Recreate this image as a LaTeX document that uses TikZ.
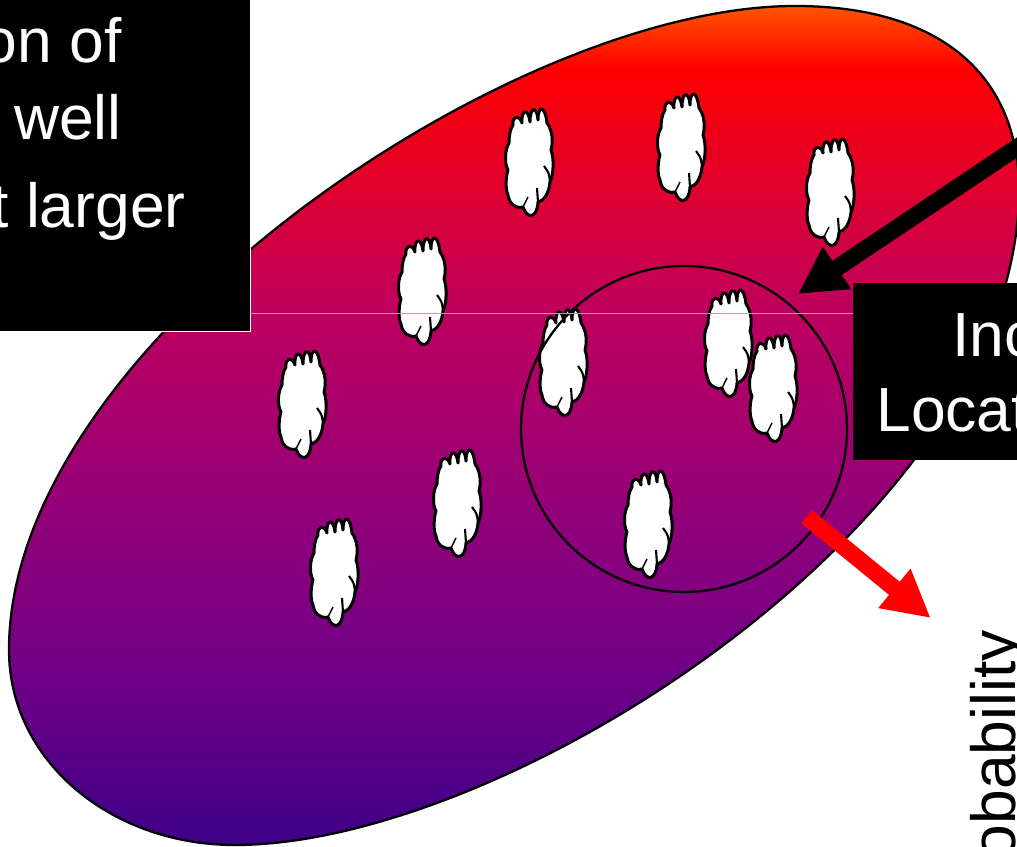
\documentclass[tikz,border=0pt]{standalone}
\usepackage{fontspec}
\setmainfont{Liberation Sans}
\usetikzlibrary{arrows.meta}
\definecolor{blobfire}{RGB}{255,85,0}
\definecolor{blobred}{RGB}{255,0,0}
\definecolor{blobrose}{RGB}{190,0,95}
\definecolor{blobplum}{RGB}{145,0,122}
\definecolor{blobviolet}{RGB}{130,0,128}
\definecolor{blobindigo}{RGB}{105,0,135}
\definecolor{blobnavy}{RGB}{60,0,135}
\definecolor{seamcolor}{RGB}{235,130,175}
\pgfdeclareverticalshading{blobshade}{100bp}{color(0bp)=(blobnavy); color(25bp)=(blobnavy); color(33.6bp)=(blobindigo); color(40.2bp)=(blobviolet); color(44.4bp)=(blobplum); color(56.7bp)=(blobrose); color(71.3bp)=(blobred); color(75bp)=(blobfire); color(100bp)=(blobfire)}
\tikzset{
  cellblob/.pic={
    \draw[fill=white,line width=1.7pt,line join=round]
      (-16,-36) .. controls (-17,-45) and (-10,-47) .. (-7,-38)
      .. controls (-8,-51) and (-1,-54) .. (1,-39)
      .. controls (1,-55) and (8,-55) .. (9,-41)
      .. controls (9,-56) and (16,-56) .. (18,-38)
      .. controls (24,-30) and (24,-18) .. (22,-11)
      .. controls (25,-3) and (25,12) .. (21,21)
      .. controls (20,32) and (15,40) .. (9,41)
      .. controls (8,58) and (-2,58) .. (-6,46)
      .. controls (-14,48) and (-20,42) .. (-21,34)
      .. controls (-24,28) and (-23,15) .. (-21,9)
      .. controls (-25,2) and (-24,-12) .. (-20,-18)
      .. controls (-20,-24) and (-19,-32) .. cycle;
    \draw[line width=1.2pt] (21,21) .. controls (20,12) .. (15,5);
    \draw[line width=1.2pt] (9,41) .. controls (9,34) .. (8,27);
    \draw[line width=0.8pt] (-6,46) -- (-1,36);
  }
}
\begin{document}
\begin{tikzpicture}[x=0.02cm,y=-0.02cm,
    blackbox/.style={rectangle,fill=black,inner sep=0pt,anchor=north west},
    boxtext/.style={text=white,font=\fontsize{35.5}{36}\selectfont,inner sep=0pt},
    bigarrow/.style={-{Stealth[length=26.7pt,width=27pt,inset=0pt]},line width=9.6pt}]
  \useasboundingbox (0,0) rectangle (1017,847);
  \clip (0,0) rectangle (1017,847);
  % region with gradient
  \path[shading=blobshade,draw=black,line width=1.3pt]
    (9,650) .. controls (9,345) and (510,6) .. (795,6)
    .. controls (940,6) and (1019,75) .. (1019,190)
    .. controls (1019,517) and (510,845) .. (235,845)
    .. controls (110,845) and (9,760) .. cycle;
  \foreach \x/\y in {529/161,681/146,830/191,422/290,302/403,563/361,728/342,773/387,457/502,648/523,334/571}
    \pic at (\x,\y) {cellblob};
  \draw[line width=1.3pt] (684,429) circle (163);
  % arrows
  \coordinate (darktail) at (1060,118.7);
  \coordinate (darktip) at (798,294);
  \coordinate (redtail) at (806.7,516.7);
  \coordinate (redtip) at (930.7,618);
  \draw[bigarrow,black] (darktail) -- (darktip);
  \draw[bigarrow,red] (redtail) -- (redtip);
  % boxes
  \node[blackbox,draw=white,line width=0.6pt,minimum width=270*0.02cm,minimum height=341*0.02cm] (leftbox) at (-20,-10) {};
  \node[blackbox,minimum width=200*0.02cm,minimum height=177*0.02cm] (rightbox) at (853,283) {};
  \coordinate (seamleft) at (250,313);
  \coordinate (seamright) at (853,313);
  \draw[seamcolor,line width=0.4pt] (seamleft) -- (seamright);
  \node[boxtext,anchor=base east] (lineone) at (122,63) {on of};
  \node[boxtext,anchor=base east] (linetwo) at (122,140) {well};
  \node[boxtext,anchor=base east] (linethree) at (186,228) {t larger};
  \node[boxtext,anchor=base east] (linefour) at (2,305) {e};
  \node[boxtext,anchor=base west] (lineind) at (952,357) {Inc};
  \node[boxtext,anchor=base west] (lineloc) at (876,432) {Locat};
  \node[boxtext,text=black,rotate=90,anchor=base east] (sidelabel) at (1015,630) {obability};
\end{tikzpicture}
\end{document}
